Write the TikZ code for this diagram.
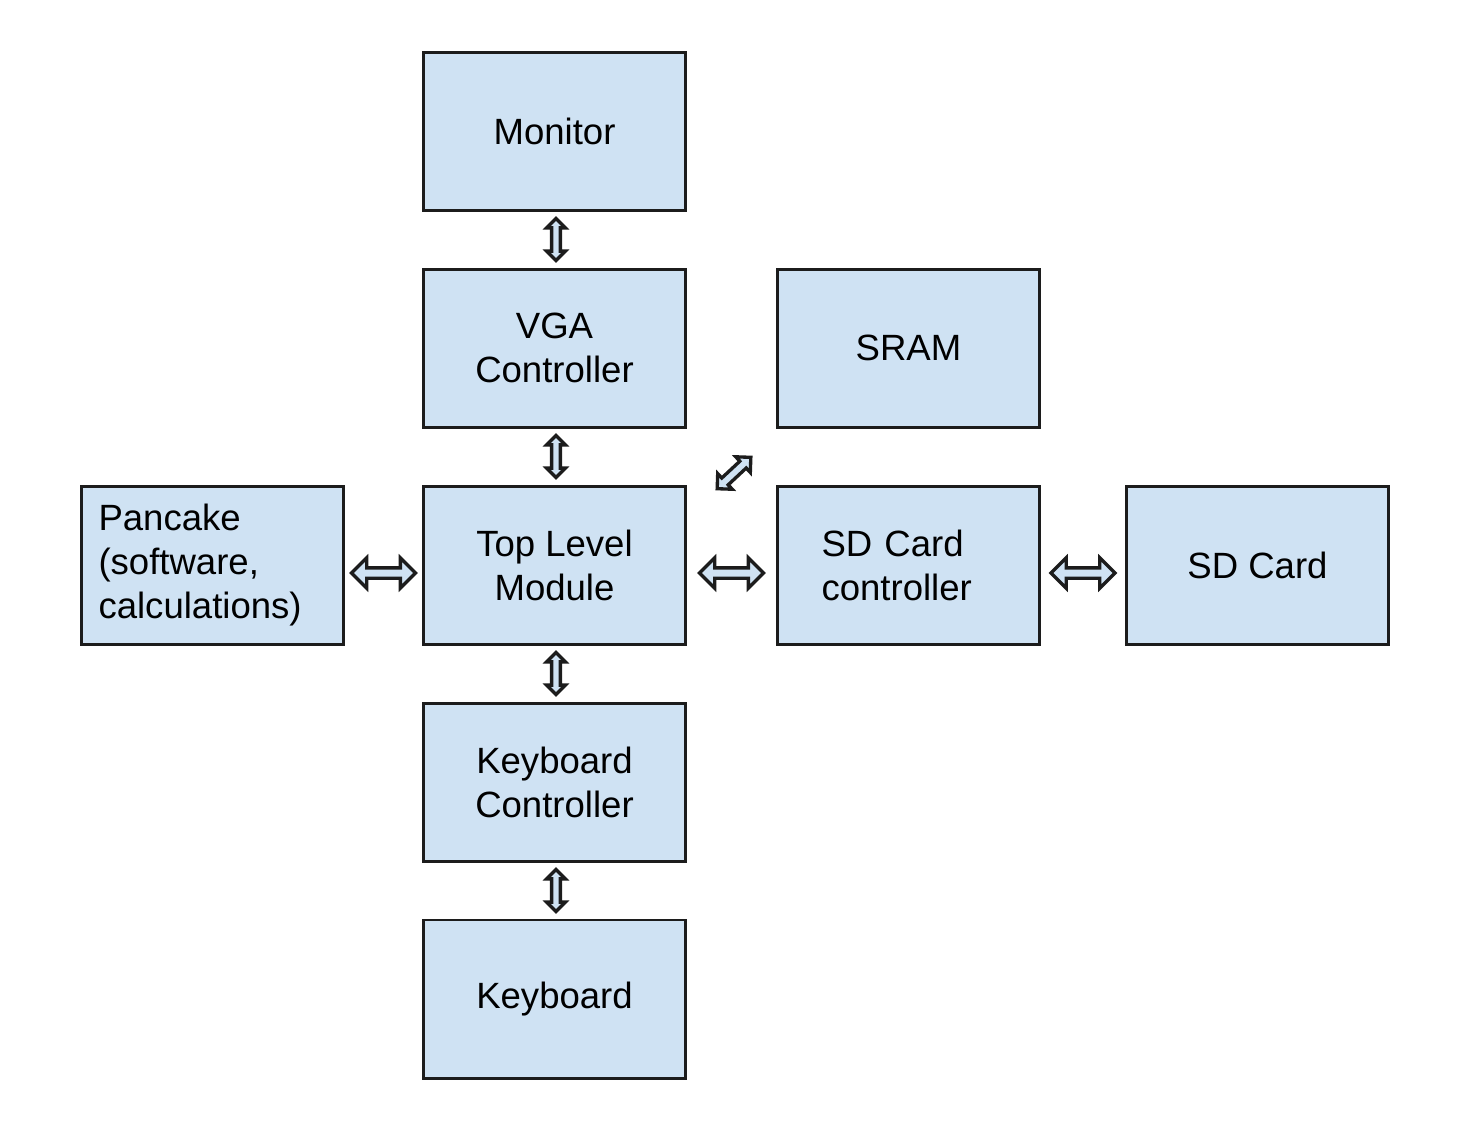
\documentclass[tikz,border=0pt]{standalone}
\usepackage{fontspec}
\setmainfont{Liberation Sans}
\usetikzlibrary{shapes.arrows, positioning, calc}
\definecolor{boxblue}{RGB}{207,226,243}
\definecolor{edgegray}{RGB}{28,28,28}

\begin{document}
\begin{tikzpicture}[
    node distance=0.56cm,
    block/.style={rectangle, draw=edgegray, fill=boxblue, line width=0.85pt,
                  minimum width=2.62cm, minimum height=1.58cm, align=center,
                  font=\fontsize{10.4}{12.5}\selectfont},
    link/.style={double arrow, draw=edgegray, fill=boxblue, line width=0.95pt,
                 inner sep=0pt, minimum width=0pt},
    hlink/.style={link, yshift=-0.08cm, inner ysep=0.035cm, double arrow head extend=0.1cm, minimum height=0.64cm},
    vlink/.style={link, xshift=0.015cm, rotate=90, inner ysep=0.027cm, double arrow head extend=0.05cm, minimum height=0.42cm},
    dlink/.style={link, rotate=43, inner ysep=0.03cm, double arrow head extend=0.06cm, minimum height=0.46cm}
]
    \useasboundingbox (0,0) rectangle (14.7,-11.39);

    % Middle row
    \node[block] (top) at (5.545,-5.65) {Top Level\\Module};
    \node[block, left=0.77cm of top, align=left, text width=2.28cm] (pancake) {Pancake\\(software,\\calculations)};
    \node[block, right=0.89cm of top, align=left, text width=1.74cm] (sdctrl) {SD Card\\controller};
    \node[block, right=0.84cm of sdctrl] (sdcard) {SD Card};

    % Column
    \node[block, above=of top] (vga) {VGA\\Controller};
    \node[block, above=of vga] (monitor) {Monitor};
    \node[block, below=of top] (kbctrl) {Keyboard\\Controller};
    \node[block, below=of kbctrl] (keyboard) {Keyboard};
    \node[block, above=of sdctrl] (sram) {SRAM};

    % Arrows
    \node[vlink] (a1) at ($(monitor.south)!0.5!(vga.north)$) {};
    \node[vlink] (a2) at ($(vga.south)!0.5!(top.north)$) {};
    \node[vlink] (a3) at ($(top.south)!0.5!(kbctrl.north)$) {};
    \node[vlink] (a4) at ($(kbctrl.south)!0.5!(keyboard.north)$) {};
    \node[hlink] (a5) at ($(pancake.east)!0.5!(top.west)$) {};
    \node[hlink] (a6) at ($(top.east)!0.5!(sdctrl.west)$) {};
    \node[hlink] (a7) at ($(sdctrl.east)!0.5!(sdcard.west)$) {};
    \node[dlink] (a8) at (7.34,-4.73) {};
\end{tikzpicture}
\end{document}
